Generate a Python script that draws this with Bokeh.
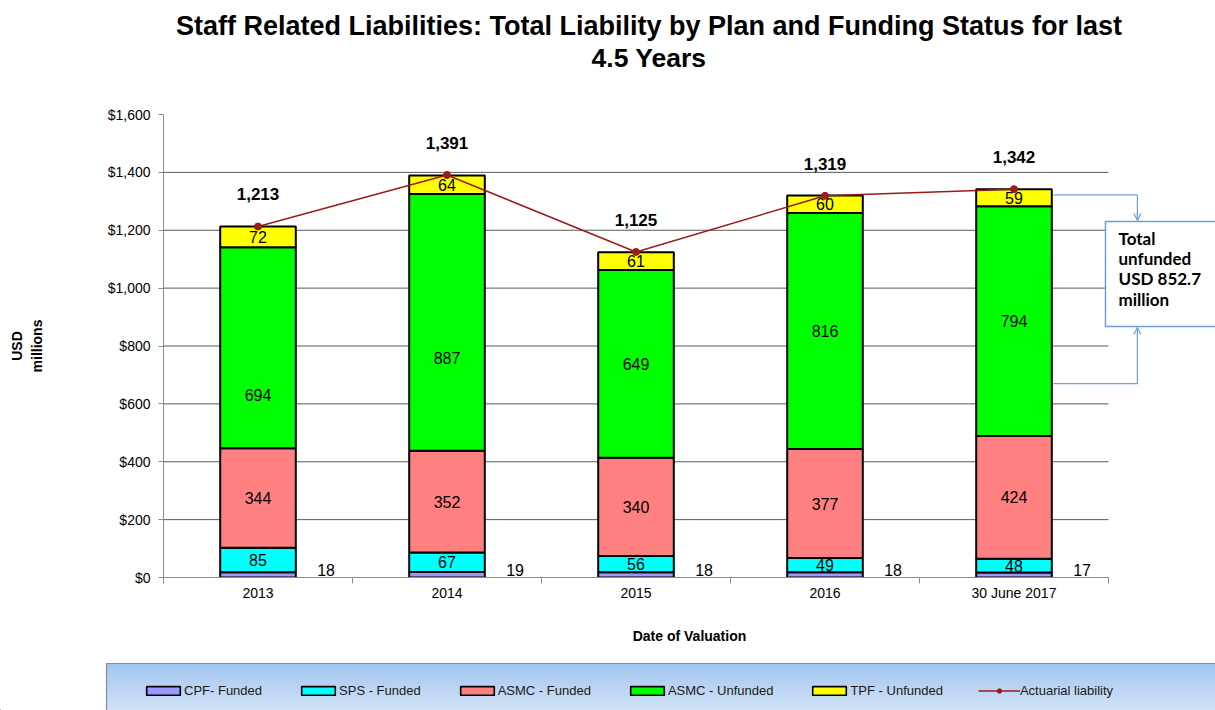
from bokeh.plotting import figure
from bokeh.layouts import column
from bokeh.models import (ColumnDataSource, Range1d, FixedTicker, NumeralTickFormatter,
                          Legend, LegendItem, Label, Arrow, OpenHead)
from bokeh.core.properties import value
from bokeh.embed import file_html
from bokeh.resources import INLINE

# ---------------- data ----------------
categories = ["2013", "2014", "2015", "2016", "30 June 2017"]
cpf_funded = [18, 19, 18, 18, 17]
sps_funded = [85, 67, 56, 49, 48]
asmc_funded = [344, 352, 340, 377, 424]
asmc_unfunded = [694, 887, 649, 816, 794]
tpf_unfunded = [72, 64, 61, 60, 59]
actuarial_liability = [1213, 1391, 1125, 1319, 1342]
series_names = ["CPF- Funded", "SPS - Funded", "ASMC - Funded", "ASMC - Unfunded", "TPF - Unfunded"]
line_name = "Actuarial liability"
y_ticks = [0, 200, 400, 600, 800, 1000, 1200, 1400, 1600]
title_lines = ["Staff Related Liabilities: Total Liability by Plan and Funding Status for last",
               "4.5 Years"]
callout_text = "Total\nunfunded\nUSD 852.7\nmillion"

# ---------------- styles ----------------
FONT = "Liberation Sans"
colors = ["#9999FF", "#00FFFF", "#FF8080", "#00FF00", "#FFFF00"]
line_color = "#9B1B1B"
callout_color = "#6F9FD8"
W = 1215
# pixel nudges of the ASMC-unfunded labels (as placed in the original chart)
unfunded_label_nudge_px = [47, 36, 0, 0, 0]

xs = [i + 0.5 for i in range(len(categories))]
keys = ["cpf", "sps", "asmc_f", "asmc_u", "tpf"]
series = [cpf_funded, sps_funded, asmc_funded, asmc_unfunded, tpf_unfunded]
data = dict(x=xs)
for k, s in zip(keys, series):
    data[k] = s
source = ColumnDataSource(data=data)

# ---------------- title strip ----------------
head = figure(width=W, height=80, output_backend="svg", toolbar_location=None,
              x_axis_type=None, y_axis_type=None, title=None,
              x_range=Range1d(0, 1), y_range=Range1d(0, 1),
              min_border_left=0, min_border_right=0, min_border_top=0, min_border_bottom=0)
head.outline_line_color = None
head.frame_align = False
head.add_layout(Label(x=648.5, y=55, x_units="screen", y_units="screen", text=title_lines[0],
                      text_align="center", text_baseline="middle", text_font=FONT,
                      text_font_size="27px", text_font_style="bold", text_color="black"))
head.add_layout(Label(x=648.5, y=23, x_units="screen", y_units="screen", text=title_lines[1],
                      text_align="center", text_baseline="middle", text_font=FONT,
                      text_font_size="26.5px", text_font_style="bold", text_color="black"))

# ---------------- main chart ----------------
p = figure(width=W, height=580, output_backend="svg", toolbar_location=None, title=None,
           x_range=Range1d(0, (W - 163) / 189.0), y_range=Range1d(0, 1600),
           min_border_left=163, min_border_right=0, min_border_top=34, min_border_bottom=83)
p.outline_line_color = None
p.frame_align = False
p.xgrid.visible = False
p.ygrid.visible = False

grid_vals = [t for t in y_ticks if 0 < t < y_ticks[-1]]
p.segment(x0=[0] * len(grid_vals), x1=[len(categories)] * len(grid_vals), y0=grid_vals, y1=grid_vals,
          line_color="#5a5a5a", line_width=1)

bars = p.vbar_stack(keys, x="x", width=0.4, source=source, fill_color=colors,
                    line_color="black", line_width=2)

lab = dict(x=[], y=[], t=[], dy=[])
for j in range(len(categories)):
    base = 0
    for si, s in enumerate(series):
        v = s[j]
        if si > 0:
            lab["x"].append(xs[j])
            lab["y"].append(base + v / 2)
            lab["t"].append(str(v))
            lab["dy"].append(unfunded_label_nudge_px[j] if keys[si] == "asmc_u" else 0)
        base += v
p.text(x="x", y="y", text="t", y_offset="dy", source=ColumnDataSource(lab),
       text_align="center", text_baseline="middle",
       text_font=value(FONT), text_font_size="16px", text_color="black")

p.text([x + 0.36 for x in xs], [0] * len(xs), text=[str(v) for v in cpf_funded],
       text_align="center", text_baseline="bottom", y_offset=-2,
       text_font=value(FONT), text_font_size="16px", text_color="black")

ln = p.line(xs, actuarial_liability, line_color=line_color, line_width=1.5)
mk = p.scatter(xs, actuarial_liability, size=7, fill_color=line_color, line_color=line_color)
p.text(xs, actuarial_liability, text=[f"{v:,}" for v in actuarial_liability],
       text_align="center", text_baseline="middle", y_offset=-32,
       text_font=value(FONT), text_font_size="17px", text_font_style="bold", text_color="black")

# callout
p.quad(left=[4.984], right=[7.0], top=[1230], bottom=[867], fill_color="white",
       line_color=callout_color, line_width=1.5)
p.text([5.053], [1230], text=[callout_text], text_baseline="top", text_align="left", y_offset=6,
       text_font=value("Lato"), text_font_size="17px", text_font_style="bold",
       text_color="black", text_line_height=0.97)
p.line([4.709, 5.153, 5.153], [1322, 1322, 1245], line_color=callout_color, line_width=1.2)
p.line([4.709, 5.153, 5.153], [670, 670, 850], line_color=callout_color, line_width=1.2)
p.add_layout(Arrow(end=OpenHead(size=7, line_color=callout_color, line_width=1.2),
                   x_start=5.153, y_start=1260, x_end=5.153, y_end=1234,
                   line_color=callout_color, line_width=1.2))
p.add_layout(Arrow(end=OpenHead(size=7, line_color=callout_color, line_width=1.2),
                   x_start=5.153, y_start=840, x_end=5.153, y_end=864,
                   line_color=callout_color, line_width=1.2))

xa = p.xaxis[0]
xa.ticker = FixedTicker(ticks=xs, minor_ticks=list(range(len(categories) + 1)))
xa.major_label_overrides = {x: c for x, c in zip(xs, categories)}
xa.bounds = (0, len(categories))
xa.major_tick_in = 0
xa.major_tick_out = 0
xa.minor_tick_in = 0
xa.minor_tick_out = 6
xa.axis_line_color = "#8c8c8c"
xa.minor_tick_line_color = "#8c8c8c"
xa.major_label_standoff = 1
xa.major_label_text_font = FONT
xa.major_label_text_font_size = "14px"
xa.major_label_text_color = "black"
xa.axis_label = "Date of Valuation"
xa.axis_label_text_font = FONT
xa.axis_label_text_font_size = "14px"
xa.axis_label_text_font_style = "bold"
xa.axis_label_text_color = "black"
xa.axis_label_standoff = 24

ya = p.yaxis[0]
ya.ticker = FixedTicker(ticks=y_ticks)
ya.formatter = NumeralTickFormatter(format="$0,0")
ya.major_tick_in = 0
ya.major_tick_out = 5
ya.minor_tick_in = 0
ya.minor_tick_out = 0
ya.axis_line_color = "#8c8c8c"
ya.major_tick_line_color = "#8c8c8c"
ya.major_label_standoff = 8
ya.major_label_text_font = FONT
ya.major_label_text_font_size = "14px"
ya.major_label_text_color = "black"
ya.axis_label = "USD\nmillions"
ya.axis_label_text_font = FONT
ya.axis_label_text_font_size = "14px"
ya.axis_label_text_font_style = "bold"
ya.axis_label_text_color = "black"
ya.axis_label_standoff = 60

# ---------------- legend strip ----------------
LH = 50
leg = figure(width=W, height=LH, output_backend="svg", toolbar_location=None,
             x_axis_type=None, y_axis_type=None, title=None,
             x_range=Range1d(0, W), y_range=Range1d(0, LH),
             min_border_left=0, min_border_right=0, min_border_top=0, min_border_bottom=0)
leg.outline_line_color = None
leg.frame_align = False

# gradient panel behind the legend (light blue, darker at top)
top_rgb = (163, 198, 240)
bot_rgb = (219, 232, 249)
box_top, box_bottom, n_bands = 47, -10, 19
band_h = (box_top - box_bottom) / n_bands
for i in range(n_bands):
    f = i / (n_bands - 1)
    c = tuple(int(round(a + (b - a) * f)) for a, b in zip(top_rgb, bot_rgb))
    leg.quad(left=[106], right=[W + 50], top=[box_top - i * band_h], bottom=[box_top - (i + 1) * band_h - 0.5],
             fill_color="#%02x%02x%02x" % c, line_color=None)
leg.quad(left=[106], right=[W + 50], top=[box_top], bottom=[box_bottom], fill_color=None,
         line_color="#8c8c8c", line_width=1.2)

# legend-only renderers, placed outside the visible range
leg_renderers = []
for c in colors:
    leg_renderers.append(leg.vbar(x=[-100], top=[0], width=1, fill_color=c,
                                  line_color="black", line_width=1.6))
l_ln = leg.line(x=[-100, -90], y=[0, 0], line_color=line_color, line_width=1.5)
l_mk = leg.scatter(x=[-100], y=[0], size=7, fill_color=line_color, line_color=line_color)
items = [LegendItem(label=n, renderers=[r]) for n, r in zip(series_names, leg_renderers)]
items.append(LegendItem(label=line_name, renderers=[l_ln, l_mk]))
legend = Legend(items=items, orientation="horizontal", location=(142, 12),
                glyph_width=42, glyph_height=11, label_standoff=0, spacing=35, padding=0,
                background_fill_alpha=0.0, border_line_color=None,
                label_text_font=FONT, label_text_font_size="13px", label_text_color="#1a1a1a",
                margin=0)
leg.add_layout(legend)

layout = column(head, p, leg, spacing=0)
open("out.html", "w").write(file_html(layout, INLINE))
